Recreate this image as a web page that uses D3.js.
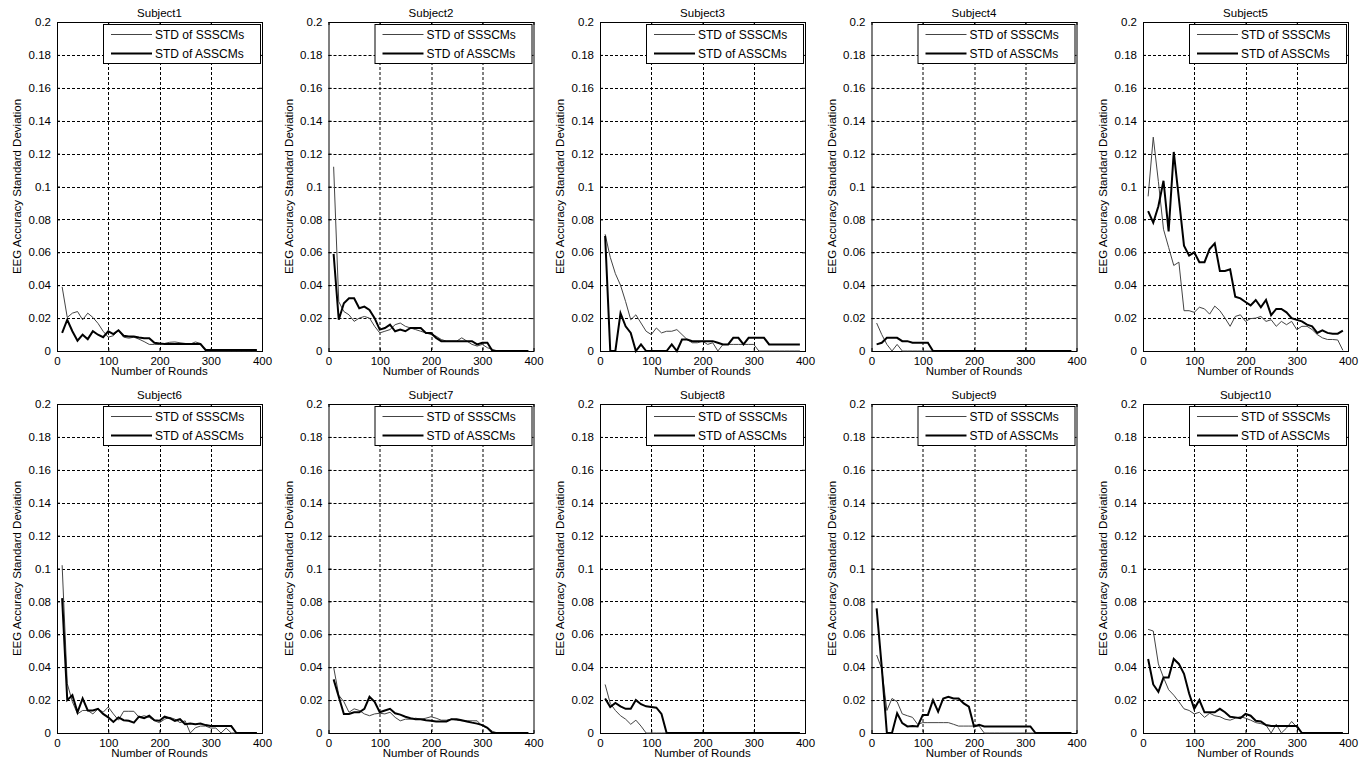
<!DOCTYPE html>
<html>
<head>
<meta charset="utf-8">
<script src="https://cdn.jsdelivr.net/npm/d3@7"></script>
<style>
  body { margin: 0; background: #fff; }
  svg { display: block; font-family: "Liberation Sans", Arial, sans-serif; }
</style>
</head>
<body>
<svg id="chart" width="1369" height="769"></svg>
<script>
// rounds 10..390, one point every 10 rounds
const rounds = [10, 20, 30, 40, 50, 60, 70, 80, 90, 100, 110, 120, 130, 140, 150, 160, 170, 180, 190, 200,
    210, 220, 230, 240, 250, 260, 270, 280, 290, 300, 310, 320, 330, 340, 350, 360, 370, 380, 390];

const subjects = ['Subject1', 'Subject2', 'Subject3', 'Subject4', 'Subject5',
    'Subject6', 'Subject7', 'Subject8', 'Subject9', 'Subject10'];

const seriesNames = ['STD of SSSCMs', 'STD of ASSCMs'];
const xTicks = [0, 100, 200, 300, 400];
const yTicks = [0, 0.02, 0.04, 0.06, 0.08, 0.1, 0.12, 0.14, 0.16, 0.18, 0.2];

// STD of SSSCMs (thin line)
const sssc1 = [0.039, 0.0204, 0.023, 0.024, 0.019, 0.023, 0.0204, 0.0168, 0.012, 0.0084, 0.0093, 0.0126, 0.0084, 0.0078, 0.0084, 0.0072, 0.0057, 0.004, 0.004, 0.004,
    0.0046, 0.0053, 0.0055, 0.005, 0.0046, 0.0042, 0.0055, 0.0046, 0, 0, 0, 0, 0, 0, 0, 0, 0, 0, 0];
const sssc2 = [0.112, 0.03, 0.024, 0.022, 0.018, 0.02, 0.021, 0.02, 0.015, 0.011, 0.012, 0.013, 0.016, 0.017, 0.015, 0.014, 0.013, 0.012, 0.011, 0.01,
    0.009, 0.007, 0.006, 0.006, 0.006, 0.008, 0.006, 0.004, 0.003, 0.004, 0.002, 0.001, 0, 0, 0, 0, 0, 0, 0];
const sssc3 = [0.071, 0.057, 0.047, 0.04, 0.03, 0.019, 0.022, 0.017, 0.012, 0.01, 0.014, 0.011, 0.012, 0.012, 0.013, 0.01, 0.007, 0.005, 0.005, 0.006,
    0.004, 0.005, 0, 0.004, 0.004, 0.004, 0.004, 0.004, 0.004, 0.004, 0, 0, 0, 0, 0, 0, 0, 0, 0];
const sssc4 = [0.017, 0.01, 0.004, 0, 0.004, 0, 0, 0, 0, 0, 0, 0, 0, 0, 0, 0, 0, 0, 0, 0,
    0, 0, 0, 0, 0, 0, 0, 0, 0, 0, 0, 0, 0, 0, 0, 0, 0, 0, 0];
const sssc5 = [0.094, 0.13, 0.103, 0.074, 0.063, 0.052, 0.054, 0.0245, 0.0245, 0.0235, 0.0266, 0.0256, 0.0224, 0.0273, 0.0245, 0.02, 0.015, 0.021, 0.022, 0.018,
    0.0197, 0.02, 0.021, 0.018, 0.019, 0.015, 0.018, 0.016, 0.018, 0.013, 0.015, 0.015, 0.013, 0.01, 0.008, 0.007, 0.007, 0.0067, 0.0004];
const sssc6 = [0.102, 0.03, 0.019, 0.0116, 0.0137, 0.0137, 0.0116, 0.0147, 0.0126, 0.0158, 0.0116, 0.0078, 0.0132, 0.0132, 0.0132, 0.0095, 0.0105, 0.0095, 0.0074, 0.0063,
    0.0084, 0.0095, 0.0084, 0.0063, 0.0074, 0, 0.0032, 0.0042, 0.0042, 0.003, 0.003, 0, 0.003, 0, 0, 0, 0, 0, 0];
const sssc7 = [0.04, 0.023, 0.019, 0.0126, 0.0147, 0.0137, 0.0116, 0.0105, 0.0116, 0.012, 0.0116, 0.0126, 0.0095, 0.0074, 0.0084, 0.0084, 0.009, 0.0084, 0.009, 0.0099,
    0.009, 0.0078, 0.0078, 0.0084, 0.0078, 0.0074, 0.0074, 0.0074, 0.0074, 0.0042, 0.0032, 0.001, 0, 0, 0, 0, 0, 0, 0];
const sssc8 = [0.0295, 0.018, 0.0137, 0.0105, 0.0084, 0.0053, 0.0078, 0.0042, 0, 0, 0, 0, 0, 0, 0, 0, 0, 0, 0, 0,
    0, 0, 0, 0, 0, 0, 0, 0, 0, 0, 0, 0, 0, 0, 0, 0, 0, 0, 0];
const sssc9 = [0.0474, 0.039, 0.0137, 0.021, 0.019, 0.0116, 0.0105, 0.0095, 0.0053, 0.0063, 0.0063, 0.0063, 0.0063, 0.0063, 0.0063, 0.0053, 0.0042, 0.0042, 0.0042, 0.0042,
    0.0042, 0, 0, 0, 0, 0, 0, 0, 0, 0, 0, 0, 0, 0, 0, 0, 0, 0, 0];
const sssc10 = [0.063, 0.062, 0.042, 0.0337, 0.0263, 0.023, 0.019, 0.0147, 0.0137, 0.0116, 0.0126, 0.0095, 0.012, 0.0105, 0.0099, 0.0084, 0.0078, 0.009, 0.0099, 0.009,
    0.0078, 0.0063, 0.0057, 0.0048, 0, 0.0053, 0, 0.003, 0.007, 0.0036, 0, 0, 0, 0, 0, 0, 0, 0, 0];

// STD of ASSCMs (thick line)
const assc1 = [0.011, 0.019, 0.012, 0.0063, 0.0099, 0.0072, 0.012, 0.0099, 0.0084, 0.012, 0.0103, 0.0126, 0.0093, 0.0088, 0.0088, 0.0082, 0.0078, 0.0078, 0.005, 0.0046,
    0.0042, 0.0042, 0.0042, 0.0042, 0.0042, 0.0042, 0.0042, 0.0042, 0.0006, 0.0006, 0.0006, 0.0006, 0.0006, 0.0006, 0.0006, 0.0006, 0.0006, 0.0006, 0.0006];
const assc2 = [0.059, 0.019, 0.029, 0.032, 0.032, 0.026, 0.027, 0.025, 0.02, 0.013, 0.014, 0.016, 0.012, 0.013, 0.012, 0.014, 0.014, 0.014, 0.011, 0.011,
    0.008, 0.006, 0.006, 0.006, 0.006, 0.006, 0.006, 0.006, 0.004, 0.005, 0.005, 0, 0, 0, 0, 0, 0, 0, 0];
const assc3 = [0.07, 0, 0, 0.023, 0.015, 0.011, 0, 0.004, 0, 0, 0, 0, 0, 0.004, 0, 0.007, 0.007, 0.006, 0.006, 0.006,
    0.006, 0.006, 0.005, 0.004, 0.004, 0.008, 0.008, 0.004, 0.008, 0.008, 0.008, 0.008, 0.004, 0.004, 0.004, 0.004, 0.004, 0.004, 0.004];
const assc4 = [0.004, 0.005, 0.008, 0.008, 0.008, 0.006, 0.006, 0.005, 0.005, 0.005, 0.005, 0, 0, 0, 0, 0, 0, 0, 0, 0,
    0, 0, 0, 0, 0, 0, 0, 0, 0, 0, 0, 0, 0, 0, 0, 0, 0, 0, 0];
const assc5 = [0.085, 0.078, 0.088, 0.1035, 0.0727, 0.121, 0.0927, 0.064, 0.058, 0.06, 0.054, 0.054, 0.062, 0.0654, 0.0486, 0.0486, 0.0497, 0.033, 0.032, 0.0298,
    0.0277, 0.031, 0.0266, 0.031, 0.0218, 0.0256, 0.0256, 0.0235, 0.02, 0.0189, 0.018, 0.016, 0.015, 0.011, 0.0126, 0.011, 0.0105, 0.0105, 0.0124];
const assc6 = [0.082, 0.02, 0.023, 0.0126, 0.021, 0.0137, 0.0137, 0.0147, 0.0116, 0.0095, 0.0067, 0.0095, 0.0078, 0.0074, 0.0063, 0.0099, 0.009, 0.0105, 0.0078, 0.0074,
    0.0099, 0.009, 0.0074, 0.0084, 0.0053, 0.0057, 0.0053, 0.0057, 0.0048, 0.0042, 0.0042, 0.0042, 0.0042, 0.0042, 0, 0, 0, 0, 0];
const assc7 = [0.0326, 0.022, 0.0116, 0.0116, 0.0126, 0.0126, 0.0147, 0.022, 0.019, 0.0126, 0.0137, 0.0147, 0.012, 0.0112, 0.0099, 0.009, 0.0084, 0.0084, 0.0078, 0.0074,
    0.007, 0.007, 0.007, 0.0084, 0.0084, 0.0078, 0.007, 0.0063, 0.0057, 0.0048, 0.0032, 0, 0, 0, 0, 0, 0, 0, 0];
const assc8 = [0.021, 0.0158, 0.0183, 0.0162, 0.0147, 0.0147, 0.02, 0.0175, 0.0162, 0.0158, 0.0154, 0.0116, 0, 0, 0, 0, 0, 0, 0, 0,
    0, 0, 0, 0, 0, 0, 0, 0, 0, 0, 0, 0, 0, 0, 0, 0, 0, 0, 0];
const assc9 = [0.0758, 0.04, 0, 0, 0.012, 0.006, 0.004, 0.0042, 0.004, 0.011, 0.011, 0.02, 0.013, 0.021, 0.022, 0.021, 0.021, 0.018, 0.016, 0.004,
    0.005, 0.004, 0.004, 0.004, 0.004, 0.004, 0.004, 0.004, 0.004, 0.004, 0.004, 0, 0, 0, 0, 0, 0, 0, 0];
const assc10 = [0.045, 0.0295, 0.025, 0.0337, 0.0337, 0.045, 0.042, 0.036, 0.024, 0.0147, 0.02, 0.0126, 0.0126, 0.0126, 0.0147, 0.0126, 0.0099, 0.0095, 0.009, 0.0116,
    0.0105, 0.0074, 0.007, 0.0048, 0.0042, 0.0042, 0.0042, 0.0042, 0.0042, 0.0042, 0, 0, 0, 0, 0, 0, 0, 0, 0];

const ssscAll = [sssc1, sssc2, sssc3, sssc4, sssc5, sssc6, sssc7, sssc8, sssc9, sssc10];
const asscAll = [assc1, assc2, assc3, assc4, assc5, assc6, assc7, assc8, assc9, assc10];

// layout of the 2 x 5 grid of axes
const PLOT_W = 205;
const PLOT_H = 329;
const colLeft = (c) => 57 + c * 271.5;
const rowTop = (r) => 22 + r * 382;
const FONT = '"Liberation Sans", Arial, sans-serif';

const svg = d3.select('#chart');

const drawPanel = (i) => {
    const col = i % 5;
    const row = Math.floor(i / 5);
    const g = svg.append('g').attr('transform', `translate(${colLeft(col)}, ${rowTop(row)})`);

    const x = d3.scaleLinear().domain([0, 400]).range([0, PLOT_W]);
    const y = d3.scaleLinear().domain([0, 0.2]).range([PLOT_H, 0]);

    // dotted grid
    g.append('g')
        .selectAll('line')
        .data(xTicks.slice(1, -1))
        .enter()
        .append('line')
        .attr('x1', (d) => Math.round(x(d)) + 0.5)
        .attr('x2', (d) => Math.round(x(d)) + 0.5)
        .attr('y1', 0)
        .attr('y2', PLOT_H)
        .attr('stroke', '#000')
        .attr('stroke-dasharray', '3,2');
    g.append('g')
        .selectAll('line')
        .data(yTicks.slice(1, -1))
        .enter()
        .append('line')
        .attr('x1', 0)
        .attr('x2', PLOT_W)
        .attr('y1', (d) => Math.round(y(d)) + 0.5)
        .attr('y2', (d) => Math.round(y(d)) + 0.5)
        .attr('stroke', '#000')
        .attr('stroke-dasharray', '3,2');

    // axes, ticks pointing inward like matlab
    const xAxis = d3.axisBottom(x).tickValues(xTicks).tickSizeInner(-3).tickSizeOuter(0).tickPadding(6);
    const yAxis = d3.axisLeft(y).tickValues(yTicks).tickSizeInner(-3).tickSizeOuter(0).tickPadding(6)
        .tickFormat((d) => (d === 0 ? '0' : d3.format('~g')(d)));

    const gx = g.append('g').attr('transform', `translate(0, ${PLOT_H})`).call(xAxis);
    const gy = g.append('g').call(yAxis);
    g.append('g').call(d3.axisTop(x).tickValues(xTicks).tickSizeInner(-3).tickSizeOuter(0).tickFormat(''));
    g.append('g').attr('transform', `translate(${PLOT_W}, 0)`)
        .call(d3.axisRight(y).tickValues(yTicks).tickSizeInner(-3).tickSizeOuter(0).tickFormat(''));
    [gx, gy].forEach((a) => a.selectAll('text').style('font-size', '11.5px').style('font-family', FONT).attr('fill', '#000'));
    svg.selectAll('.domain').attr('stroke', 'none');

    // box
    g.append('rect')
        .attr('x', 0.5)
        .attr('y', 0.5)
        .attr('width', PLOT_W)
        .attr('height', PLOT_H)
        .attr('fill', 'none')
        .attr('stroke', '#000');

    // lines
    const line = d3.line()
        .x((d) => x(d[0]))
        .y((d) => y(d[1]));

    g.append('path')
        .datum(rounds.map((r, k) => [r, ssscAll[i][k]]))
        .attr('fill', 'none')
        .attr('stroke', '#444')
        .attr('stroke-width', 1)
        .attr('d', line);

    g.append('path')
        .datum(rounds.map((r, k) => [r, asscAll[i][k]]))
        .attr('fill', 'none')
        .attr('stroke', '#000')
        .attr('stroke-width', 2)
        .attr('d', line);

    // title and axis labels
    g.append('text')
        .attr('x', PLOT_W / 2)
        .attr('y', -5)
        .attr('text-anchor', 'middle')
        .style('font-size', '11.5px')
        .text(subjects[i]);

    g.append('text')
        .attr('x', PLOT_W / 2)
        .attr('y', PLOT_H + 24)
        .attr('text-anchor', 'middle')
        .style('font-size', '11.5px')
        .text('Number of Rounds');

    g.append('text')
        .attr('transform', `translate(-36, ${PLOT_H / 2}) rotate(-90)`)
        .attr('text-anchor', 'middle')
        .style('font-size', '11.5px')
        .text('EEG Accuracy Standard Deviation');

    // legend
    const legend = g.append('g').attr('transform', `translate(${PLOT_W - 159}, 2)`);
    legend.append('rect')
        .attr('x', 0.5)
        .attr('y', 0.5)
        .attr('width', 157)
        .attr('height', 39)
        .attr('fill', '#fff')
        .attr('stroke', '#000');
    seriesNames.forEach((name, k) => {
        const ly = 10.5 + k * 19;
        legend.append('line')
            .attr('x1', 8)
            .attr('x2', 49)
            .attr('y1', ly)
            .attr('y2', ly)
            .attr('stroke', k === 0 ? '#444' : '#000')
            .attr('stroke-width', k === 0 ? 1 : 2);
        legend.append('text')
            .attr('x', 52)
            .attr('y', ly + 4)
            .style('font-size', '12px')
            .text(name);
    });
};

subjects.forEach((s, i) => drawPanel(i));
</script>
</body>
</html>
